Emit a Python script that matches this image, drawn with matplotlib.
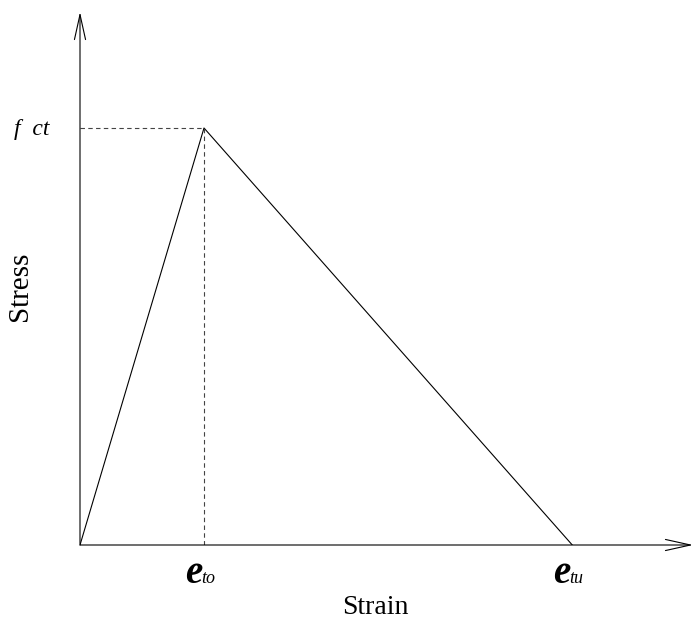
import matplotlib.pyplot as plt

plt.rcParams['font.family'] = 'Liberation Serif'

# tension softening curve (normalised units)
strain = [0.0, 1.0, 3.97]   # 0, e_to, e_tu
stress = [0.0, 1.0, 0.0]    # 0, f_ct, 0
strain_subs = ['to', 'tu']
peak_label = 'f  ct'

fig = plt.figure(figsize=(6.94, 6.21), dpi=100)
# axes placed so that the origin sits where the two arrows meet
ax = fig.add_axes([80/694, 76/621, 613/694, 533/621])
ax.set_xlim(0, 613/124)
ax.set_ylim(0, 533/417)

ax.plot(strain, stress, color='black', lw=0.8)
# dashed guides to the peak
ax.plot([0, strain[1]], [stress[1], stress[1]], color='#444444', lw=0.8, ls=(0, (4, 3)))
ax.plot([strain[1], strain[1]], [0, stress[1]], color='#444444', lw=0.8, ls=(0, (4, 3)))

for s in ax.spines.values():
    s.set_visible(False)
ax.set_xticks([])
ax.set_yticks([])

# axis arrows
arrow = dict(arrowstyle='->,head_length=1.8,head_width=0.4', color='black',
             lw=0.8, mutation_scale=10, shrinkA=0, shrinkB=0)
ax.annotate('', xy=(1, 0), xytext=(0, 0), xycoords='axes fraction', arrowprops=arrow)
ax.annotate('', xy=(0, 1), xytext=(0, 0), xycoords='axes fraction', arrowprops=arrow)

# strain labels: big italic e with small subscript
for x, sub in zip([strain[1], strain[2]], strain_subs):
    ax.annotate('e', xy=(x, 0), xytext=(-2, -38), textcoords='offset pixels',
                fontsize=28, style='italic', weight='bold', ha='right', va='baseline')
    ax.annotate(sub, xy=(x, 0), xytext=(-3, -38), textcoords='offset pixels',
                fontsize=13, style='italic', ha='left', va='baseline')

ax.annotate(peak_label, xy=(0, stress[1]), xytext=(-30, -2), textcoords='offset pixels',
            fontsize=17, style='italic', ha='right', va='center')
fig.text(375/694, 1 - 608/621, 'Strain', fontsize=20, ha='center', va='center')
fig.text(20/694, 1 - 286/621, 'Stress', fontsize=21, ha='center', va='center', rotation=90)

fig.savefig('out.png', dpi=100)
